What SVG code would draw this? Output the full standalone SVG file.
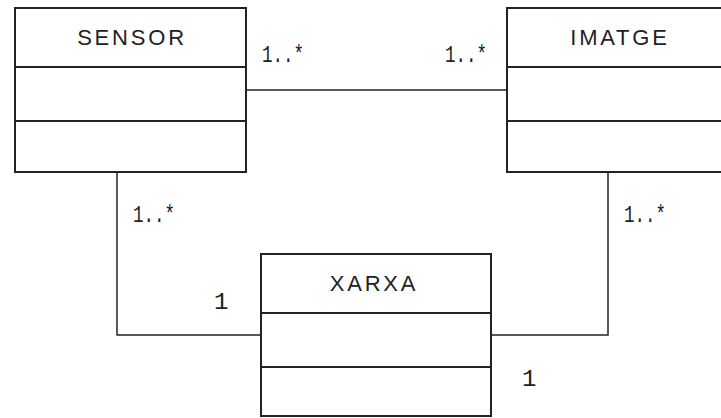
<svg xmlns="http://www.w3.org/2000/svg" width="721" height="418" viewBox="0 0 721 418">
  <style>
    .box { fill: #ffffff; stroke: #222222; stroke-width: 2; }
    .div { stroke: #222222; stroke-width: 2; }
    .title { font-family: "Liberation Sans", Arial, sans-serif; font-size: 22px; fill: #222222; text-anchor: middle; letter-spacing: 2.8px; }
    .edge { fill: none; stroke: #222222; stroke-width: 1.5; }
    .mult { font-family: "Liberation Mono", "Courier New", monospace; font-size: 24px; fill: #222222; }
  </style>
  <rect width="721" height="418" fill="#ffffff"/>

  <g id="connectors">
    <path class="edge" d="M246,90 H507"/>
    <path class="edge" d="M117,172 V335 H261"/>
    <path class="edge" d="M608,172 V335 H491"/>
    <text class="mult" x="262" y="62" textLength="42" lengthAdjust="spacingAndGlyphs">1..*</text>
    <text class="mult" x="445" y="62" textLength="42" lengthAdjust="spacingAndGlyphs">1..*</text>
    <text class="mult" x="133" y="222" textLength="42" lengthAdjust="spacingAndGlyphs">1..*</text>
    <text class="mult" x="624" y="222" textLength="42" lengthAdjust="spacingAndGlyphs">1..*</text>
    <text class="mult" x="214" y="309">1</text>
    <text class="mult" x="522" y="386">1</text>
  </g>

  <g id="sensor">
    <rect class="box" x="15" y="8" width="231" height="164"/>
    <line class="div" x1="15" y1="67" x2="246" y2="67"/>
    <line class="div" x1="15" y1="121" x2="246" y2="121"/>
    <text class="title" x="132" y="45">SENSOR</text>
  </g>

  <g id="imatge">
    <rect class="box" x="507" y="8" width="231" height="164"/>
    <line class="div" x1="507" y1="67" x2="738" y2="67"/>
    <line class="div" x1="507" y1="121" x2="738" y2="121"/>
    <text class="title" x="620" y="45">IMATGE</text>
  </g>

  <g id="xarxa">
    <rect class="box" x="261" y="254" width="230" height="162"/>
    <line class="div" x1="261" y1="313" x2="491" y2="313"/>
    <line class="div" x1="261" y1="367" x2="491" y2="367"/>
    <text class="title" x="374" y="291">XARXA</text>
  </g>
</svg>
